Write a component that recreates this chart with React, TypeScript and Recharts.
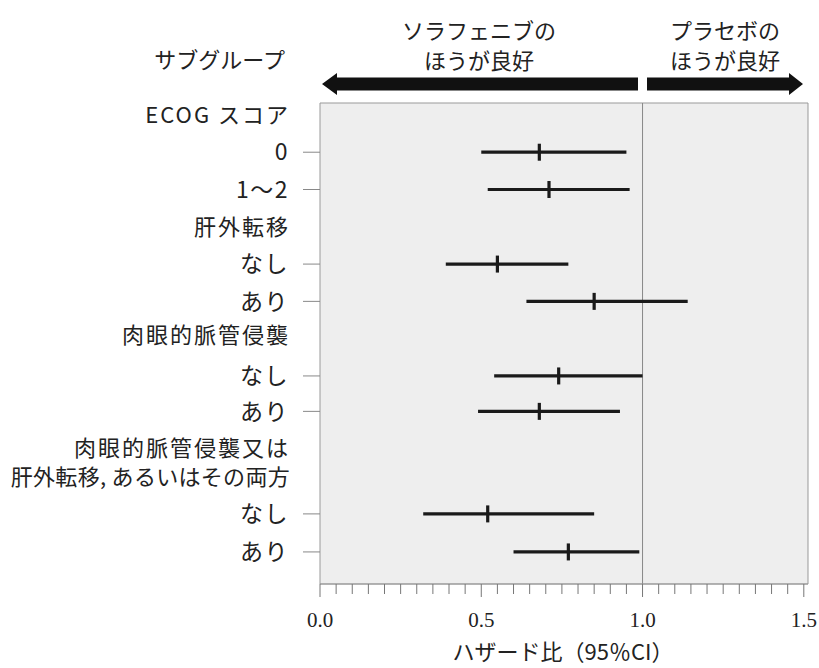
import { ScatterChart, Scatter, XAxis, YAxis, ErrorBar, ReferenceArea, ReferenceLine } from 'recharts';

// subgroup rows (y positions are row slots, top to bottom)
const rowLabels = ['0', '1～2', 'なし', 'あり', 'なし', 'あり', 'なし', 'あり'];
const rowSlots = [1, 2, 4, 5, 7, 7.95, 10.7, 11.72];
const hazardRatio = [0.68, 0.71, 0.55, 0.85, 0.74, 0.68, 0.52, 0.77];
const ciLow = [0.50, 0.52, 0.39, 0.64, 0.54, 0.49, 0.32, 0.60];
const ciHigh = [0.95, 0.96, 0.77, 1.14, 1.00, 0.93, 0.85, 0.99];

const groupLabels = [['ECOG スコア'], ['肝外転移'], ['肉眼的脈管侵襲'], ['肉眼的脈管侵襲又は', '肝外転移, あるいはその両方']];
const groupSlots = [0, 3, 5.9, 9.32];

const majorTicks = [0, 0.5, 1, 1.5];
const majorLabels = ['0.0', '0.5', '1.0', '1.5'];
const minorStep = 0.05;

const X_MAX = 1.513;
const Y_DOMAIN: [number, number] = [-0.32, 12.58];

const FONT = '"Noto Sans CJK JP", "Noto Sans", sans-serif';
const INK = '#1a1a1a';

const data = rowSlots.map((slot, i) => ({
  slot,
  hr: hazardRatio[i],
  err: [hazardRatio[i] - ciLow[i], ciHigh[i] - hazardRatio[i]],
}));

const xTicks = Array.from({ length: Math.round(1.5 / minorStep) + 1 }, (_, i) => +(i * minorStep).toFixed(2));

function XTick(props: any) {
  const { x, y, payload } = props;
  const idx = majorTicks.findIndex((t) => Math.abs(t - payload.value) < 1e-6);
  const major = idx >= 0;
  return (
    <g>
      <line x1={x} x2={x} y1={y} y2={y + (major ? 13 : 10)} stroke="#777" strokeWidth={1} />
      {major && (
        <text x={x} y={y + 43} textAnchor="middle" fontFamily='"Liberation Serif", serif' fontSize={21} fill="#222">
          {majorLabels[idx]}
        </text>
      )}
    </g>
  );
}

function YTick(props: any) {
  const { x, y, payload } = props;
  const r = rowSlots.findIndex((s) => Math.abs(s - payload.value) < 1e-6);
  if (r >= 0) {
    return (
      <g>
        <line x1={x - 17} x2={x} y1={y} y2={y} stroke="#888" strokeWidth={1} />
        <text x={x - 31} y={y} dy="0.36em" textAnchor="end" fontFamily={FONT} fontSize={23} letterSpacing={1.5} fill="#222">
          {rowLabels[r]}
        </text>
      </g>
    );
  }
  const g = groupSlots.findIndex((s) => Math.abs(s - payload.value) < 1e-6);
  if (g < 0) return null;
  const lines = groupLabels[g];
  const lh = 29.5;
  return (
    <text x={x - 30} y={y} textAnchor="end" fontFamily={FONT} fontSize={22} fill="#222">
      {lines.map((ln, i) => (
        <tspan key={i} x={x - 30} y={y + (i - (lines.length - 1) / 2) * lh} dy="0.36em" letterSpacing={ln.length > 10 ? 0.3 : 2}>{ln}</tspan>
      ))}
    </text>
  );
}

function Marker(props: any) {
  const { cx, cy } = props;
  return <rect x={cx - 1.6} y={cy - 8.5} width={3.2} height={17} fill={INK} />;
}

export default function App() {
  const yTicks = [...groupSlots, ...rowSlots].sort((a, b) => a - b);
  return (
    <div style={{ position: 'absolute', left: 0, top: 0, width: 819, height: 668, background: '#fff' }}>
      <ScatterChart width={819} height={668} margin={{ top: 103, right: 11, bottom: 0, left: 0 }}>
        <XAxis
          type="number"
          dataKey="hr"
          domain={[0, X_MAX]}
          ticks={xTicks}
          interval={0}
          tick={<XTick />}
          tickSize={0}
          tickMargin={0}
          tickLine={false}
          axisLine={{ stroke: '#999' }}
          height={84}
          allowDataOverflow
        />
        <YAxis
          type="number"
          dataKey="slot"
          domain={Y_DOMAIN}
          reversed
          ticks={yTicks}
          interval={0}
          tick={<YTick />}
          tickSize={0}
          tickMargin={0}
          tickLine={false}
          axisLine={false}
          width={320}
          allowDataOverflow
        />
        <ReferenceArea x1={0} x2={X_MAX} y1={Y_DOMAIN[0]} y2={Y_DOMAIN[1]} fill="#eeeeee" fillOpacity={1} stroke="#999" strokeWidth={1} />
        <ReferenceLine x={1} stroke="#888" strokeWidth={1} />
        <Scatter data={data} shape={<Marker />} isAnimationActive={false}>
          <ErrorBar dataKey="err" direction="x" width={0} strokeWidth={3.2} stroke={INK} />
        </Scatter>
      </ScatterChart>
      <svg width={819} height={668} style={{ position: 'absolute', left: 0, top: 0, pointerEvents: 'none' }}>
        <g fontFamily={FONT} fontSize={22} fill="#222">
          <text x={285} y={68} textAnchor="end">サブグループ</text>
          <text x={479} y={39} textAnchor="middle">ソラフェニブの</text>
          <text x={479} y={69} textAnchor="middle">ほうが良好</text>
          <text x={725} y={39} textAnchor="middle">プラセボの</text>
          <text x={725} y={69} textAnchor="middle">ほうが良好</text>
          <text x={563} y={660} textAnchor="middle">ハザード比（95％CI）</text>
        </g>
        <polygon points="322,84 337,73 337,77.5 638,77.5 638,90.5 337,90.5 337,95" fill="#111" />
        <polygon points="647,77.5 789,77.5 789,73 803,84 789,95 789,90.5 647,90.5" fill="#111" />
      </svg>
    </div>
  );
}
